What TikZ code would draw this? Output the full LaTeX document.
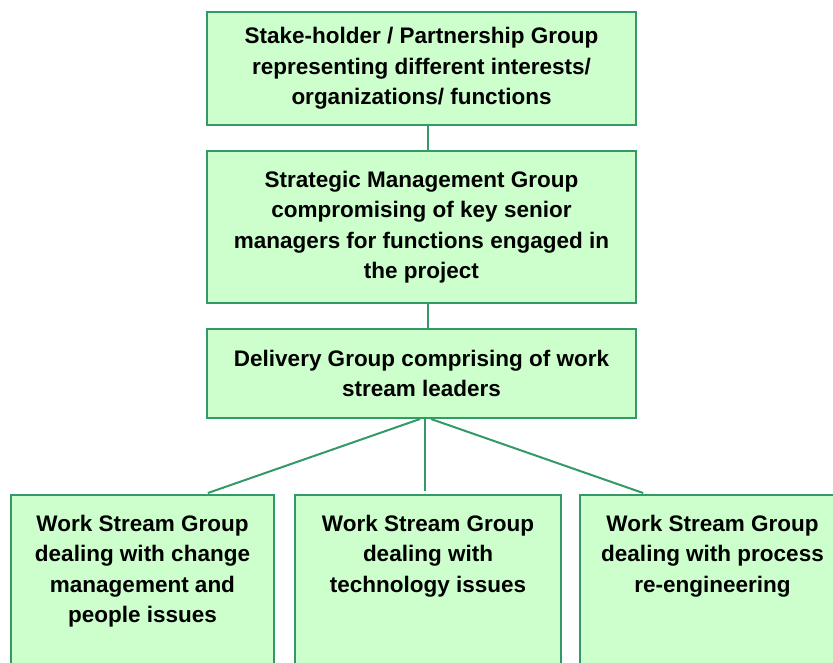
\documentclass[tikz,border=0pt]{standalone}
\usepackage{fontspec}
\setmainfont{Liberation Sans}
\definecolor{group fill color}{HTML}{CCFFCC}
\definecolor{group border color}{HTML}{339966}
\newcommand{\streamlines}[1]{\parbox[t]{250pt}{\centering #1}}
\tikzset{
    x={1pt},
    y={-1pt},
    group box/.style={
        draw=group border color,
        fill=group fill color,
        line width={2pt},
        align=center,
        font={\bfseries\fontsize{22.5}{30.5}\selectfont},
        inner sep=0pt,
    },
    upper group/.style={
        group box,
        minimum width={429},
        minimum height={#1},
    },
    stream group/.style={
        group box,
        anchor=north,
        minimum width={#1},
        inner ysep=4pt,
        text height=32pt,
        text depth=200pt,
    },
    link/.style={
        draw=group border color,
        line width={2pt},
    },
}

\begin{document}
\begin{tikzpicture}
\useasboundingbox (0,0) rectangle (833,662);
\clip (0,0) rectangle (833,662);
% groups
\node[upper group={113}] (stakeholder) at (421.5,68.5) {Stake-holder / Partnership Group\\representing different interests/\\organizations/ functions};
\node[upper group={152}] (strategic) at (421.5,227) {Strategic Management Group\\compromising of key senior\\managers for functions engaged in\\the project};
\node[upper group={89}] (delivery) at (421.5,373.5) {Delivery Group comprising of work\\stream leaders};
\node[stream group={263}] (changegroup) at (142.5,494) {\streamlines{Work Stream Group\\dealing with change\\management and\\people issues}};
\node[stream group={266}] (techgroup) at (428,494) {\streamlines{Work Stream Group\\dealing with\\technology issues}};
\node[stream group={265}] (processgroup) at (712.5,494) {\streamlines{Work Stream Group\\dealing with process\\re-engineering}};
% links
\draw[link] ([xshift=6.5]stakeholder.south) -- ([xshift=6.5]strategic.north);
\draw[link] ([xshift=6.5]strategic.south) -- ([xshift=6.5]delivery.north);
\draw[link, shorten >=3pt] ([xshift=-1.5]delivery.south) -- ([xshift=62.5]changegroup.north);
\draw[link, shorten >=3pt] ([xshift=3.5]delivery.south) -- ([xshift=-3]techgroup.north);
\draw[link, shorten >=3pt] ([xshift=9.5]delivery.south) -- ([xshift=-66.5]processgroup.north);
\end{tikzpicture}
\end{document}
